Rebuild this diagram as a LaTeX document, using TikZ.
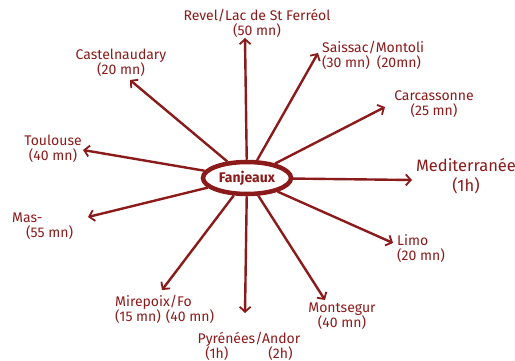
\documentclass[tikz,border=0pt]{standalone}
\usepackage{fontspec}
\setmainfont{Fira Sans}
\usepackage{tikz}
\usetikzlibrary{shapes.geometric,arrows.meta}
\definecolor{wine}{HTML}{8B1A1A}
\newcommand*{\dest}[2]{#1\\#2}

\begin{document}
\begin{tikzpicture}[x=1pt, y=-1pt, wine,
    place/.style={text=wine, font=\fontsize{14}{15}\selectfont, inner sep=0pt},
    road/.style={line width=2.4pt, -{Straight Barb[length=5pt,width=11pt,line width=1.8pt]}}]
        \useasboundingbox (0,0) rectangle (515,361);

        \node (fj) [ellipse, draw, line width=4.5pt, minimum width=88pt, minimum height=32pt,
          inner sep=0pt, font=\fontsize{14}{14}\selectfont\bfseries] at (247,178) {Fanjeaux};

        {\tikzstyle{every node}=[place, align=center]
          \node (rv) at (257,23) {\dest{Revel/Lac de St Ferréol}{(50 mn)}};
          \node (cn) at (121,63) {\dest{Castelnaudary}{(20 mn)}};
          \node (tl) at (53,149) {\dest{Toulouse}{(40 mn)}};
          \node (py) at (249,346) {\dest{Pyrénées/Andor}{(1h)\hspace{40pt}(2h)}};
          \node (mt) at (342,316) {\dest{Montsegur}{(40 mn)}};
          \node (cc) at (434,104) {\dest{Carcassonne}{(25 mn)}};
          \node (md) at (466,176) [font=\fontsize{16.5}{20}\selectfont] {\dest{Mediterranée}{(1h)}};
        }
        {\tikzstyle{every node}=[place, align=left, anchor=west]
          \node (ms) at (12,226) {\dest{Mas-}{\hspace{14pt}(55 mn)}};
          \node (mp) at (115,309) {\dest{Mirepoix/Fo}{(15 mn)\hspace{5pt}(40 mn)}};
          \node (lm) at (397,249) {\dest{Limo}{(20 mn)}};
          \node (ss) at (322,55) {\dest{Saissac/Montoli}{(30 mn)\hspace{7pt}(20mn)}};
        }

        % arrow tips
        \foreach \n/\x/\y in {rv/245/38, cn/130/80, tl/83/150, ms/88/217,
                              mp/162/290, py/245/313, mt/325/300, lm/393/243,
                              md/412/180, cc/385/107, ss/318/53}
        {
          \coordinate (t\n) at (\x,\y);
        }

        \foreach \n in {rv, cn, tl, ms, mp, py, mt, lm, md, cc, ss}
        {
          \draw [road] (fj) -- (t\n);
        }
      \end{tikzpicture}
\end{document}
